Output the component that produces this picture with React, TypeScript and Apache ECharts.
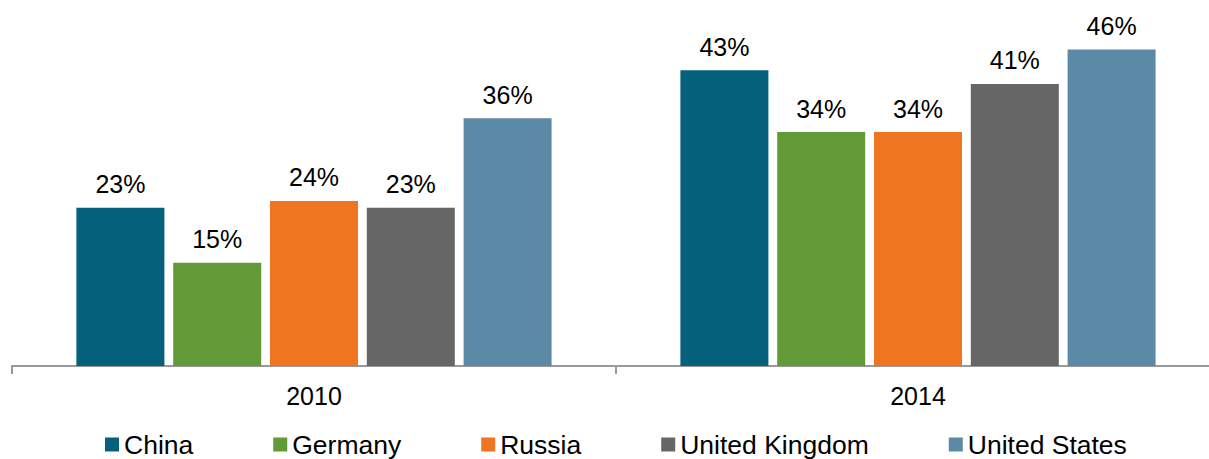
import React, { useEffect, useRef } from "react";
import * as echarts from "echarts";

const years = ["2010", "2014"];
const countries = ["China", "Germany", "Russia", "United Kingdom", "United States"];
const china = [23, 43];
const germany = [15, 34];
const russia = [24, 34];
const unitedKingdom = [23, 41];
const unitedStates = [36, 46];
const seriesValues = [china, germany, russia, unitedKingdom, unitedStates];
const colors = ["#04607B", "#639A38", "#EF7521", "#666666", "#5C8AA6"];

export default function App() {
  const ref = useRef<HTMLDivElement>(null);
  useEffect(() => {
    document.body.style.margin = "0";
    const chart = echarts.init(ref.current!, undefined, { renderer: "svg" });
    const font = "'Liberation Sans', Arial, sans-serif";
    chart.setOption({
      animation: false,
      color: colors,
      textStyle: { fontFamily: font },
      grid: { left: 12, right: 0, top: 22, height: 344, containLabel: false },
      legend: {
        left: 100,
        top: 426,
        padding: 5,
        itemGap: 80,
        itemWidth: 14,
        itemHeight: 14,
        icon: "rect",
        textStyle: { fontSize: 26.5, color: "#000", fontFamily: font },
        data: countries,
      },
      xAxis: {
        type: "category",
        data: years,
        axisLine: { lineStyle: { color: "#999999", width: 2 } },
        axisTick: { show: true, length: 8, lineStyle: { color: "#999999", width: 2 } },
        axisLabel: { fontSize: 25, color: "#000", margin: 17, fontFamily: font },
      },
      yAxis: {
        type: "value",
        min: 0,
        max: 50,
        show: false,
        splitLine: { show: false },
      },
      series: countries.map((name, i) => ({
        name,
        type: "bar",
        data: seriesValues[i],
        barWidth: 88,
        barGap: "10%",
        itemStyle: { color: colors[i] },
        label: {
          show: true,
          position: "top",
          distance: 11,
          fontSize: 25,
          color: "#000",
          fontFamily: font,
          formatter: (p: any) => `${p.value}%`,
        },
      })),
    });
    return () => chart.dispose();
  }, []);
  return (
    <div style={{ width: 1209, height: 459, overflow: "hidden", position: "relative" }}>
      <div ref={ref} style={{ width: 1220, height: 459 }} />
    </div>
  );
}
